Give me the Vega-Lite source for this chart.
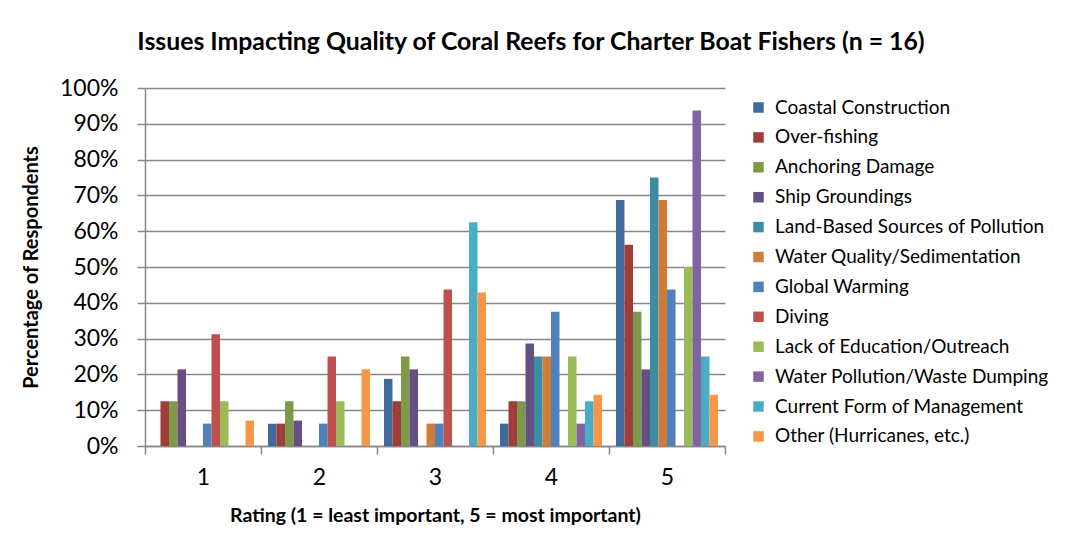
{
  "$schema": "https://vega.github.io/schema/vega-lite/v6.json",
  "autosize": {"type": "none"},
  "padding": {"left": 145, "top": 88, "right": 340, "bottom": 108},
  "width": 580,
  "height": 358,
  "background": "white",
  "title": {
    "text": "Issues Impacting Quality of Coral Reefs for Charter Boat Fishers (n = 16)",
    "font": "Lato",
    "fontSize": 24.8,
    "fontWeight": "bold",
    "color": "#000000",
    "anchor": "middle",
    "frame": "group",
    "dx": 96,
    "offset": 22
  },
  "data": {
    "values": [
      {"rating": "1", "issue": "Coastal Construction", "pct": 0},
      {"rating": "1", "issue": "Over-fishing", "pct": 0.125},
      {"rating": "1", "issue": "Anchoring Damage", "pct": 0.125},
      {"rating": "1", "issue": "Ship Groundings", "pct": 0.214},
      {"rating": "1", "issue": "Land-Based Sources of Pollution", "pct": 0},
      {"rating": "1", "issue": "Water Quality/Sedimentation", "pct": 0},
      {"rating": "1", "issue": "Global Warming", "pct": 0.0625},
      {"rating": "1", "issue": "Diving", "pct": 0.3125},
      {"rating": "1", "issue": "Lack of Education/Outreach", "pct": 0.125},
      {"rating": "1", "issue": "Water Pollution/Waste Dumping", "pct": 0},
      {"rating": "1", "issue": "Current Form of Management", "pct": 0},
      {"rating": "1", "issue": "Other (Hurricanes, etc.)", "pct": 0.071},
      {"rating": "2", "issue": "Coastal Construction", "pct": 0.0625},
      {"rating": "2", "issue": "Over-fishing", "pct": 0.0625},
      {"rating": "2", "issue": "Anchoring Damage", "pct": 0.125},
      {"rating": "2", "issue": "Ship Groundings", "pct": 0.071},
      {"rating": "2", "issue": "Land-Based Sources of Pollution", "pct": 0},
      {"rating": "2", "issue": "Water Quality/Sedimentation", "pct": 0},
      {"rating": "2", "issue": "Global Warming", "pct": 0.0625},
      {"rating": "2", "issue": "Diving", "pct": 0.25},
      {"rating": "2", "issue": "Lack of Education/Outreach", "pct": 0.125},
      {"rating": "2", "issue": "Water Pollution/Waste Dumping", "pct": 0},
      {"rating": "2", "issue": "Current Form of Management", "pct": 0},
      {"rating": "2", "issue": "Other (Hurricanes, etc.)", "pct": 0.214},
      {"rating": "3", "issue": "Coastal Construction", "pct": 0.1875},
      {"rating": "3", "issue": "Over-fishing", "pct": 0.125},
      {"rating": "3", "issue": "Anchoring Damage", "pct": 0.25},
      {"rating": "3", "issue": "Ship Groundings", "pct": 0.214},
      {"rating": "3", "issue": "Land-Based Sources of Pollution", "pct": 0},
      {"rating": "3", "issue": "Water Quality/Sedimentation", "pct": 0.0625},
      {"rating": "3", "issue": "Global Warming", "pct": 0.0625},
      {"rating": "3", "issue": "Diving", "pct": 0.4375},
      {"rating": "3", "issue": "Lack of Education/Outreach", "pct": 0},
      {"rating": "3", "issue": "Water Pollution/Waste Dumping", "pct": 0},
      {"rating": "3", "issue": "Current Form of Management", "pct": 0.625},
      {"rating": "3", "issue": "Other (Hurricanes, etc.)", "pct": 0.429},
      {"rating": "4", "issue": "Coastal Construction", "pct": 0.0625},
      {"rating": "4", "issue": "Over-fishing", "pct": 0.125},
      {"rating": "4", "issue": "Anchoring Damage", "pct": 0.125},
      {"rating": "4", "issue": "Ship Groundings", "pct": 0.286},
      {"rating": "4", "issue": "Land-Based Sources of Pollution", "pct": 0.25},
      {"rating": "4", "issue": "Water Quality/Sedimentation", "pct": 0.25},
      {"rating": "4", "issue": "Global Warming", "pct": 0.375},
      {"rating": "4", "issue": "Diving", "pct": 0},
      {"rating": "4", "issue": "Lack of Education/Outreach", "pct": 0.25},
      {"rating": "4", "issue": "Water Pollution/Waste Dumping", "pct": 0.0625},
      {"rating": "4", "issue": "Current Form of Management", "pct": 0.125},
      {"rating": "4", "issue": "Other (Hurricanes, etc.)", "pct": 0.143},
      {"rating": "5", "issue": "Coastal Construction", "pct": 0.6875},
      {"rating": "5", "issue": "Over-fishing", "pct": 0.5625},
      {"rating": "5", "issue": "Anchoring Damage", "pct": 0.375},
      {"rating": "5", "issue": "Ship Groundings", "pct": 0.214},
      {"rating": "5", "issue": "Land-Based Sources of Pollution", "pct": 0.75},
      {"rating": "5", "issue": "Water Quality/Sedimentation", "pct": 0.6875},
      {"rating": "5", "issue": "Global Warming", "pct": 0.4375},
      {"rating": "5", "issue": "Diving", "pct": 0},
      {"rating": "5", "issue": "Lack of Education/Outreach", "pct": 0.5},
      {"rating": "5", "issue": "Water Pollution/Waste Dumping", "pct": 0.9375},
      {"rating": "5", "issue": "Current Form of Management", "pct": 0.25},
      {"rating": "5", "issue": "Other (Hurricanes, etc.)", "pct": 0.143}
    ]
  },
  "mark": {"type": "bar"},
  "encoding": {
    "x": {
      "field": "rating",
      "type": "nominal",
      "scale": {"paddingInner": 0, "paddingOuter": 0},
      "axis": {
        "title": "Rating (1 = least important, 5 = most important)",
        "labelAngle": 0,
        "tickBand": "extent",
        "tickSize": 8,
        "labelPadding": 12,
        "titlePadding": 17,
        "labelFontSize": 23,
        "titleFontSize": 19.5,
        "titleFontWeight": "bold"
      }
    },
    "xOffset": {
      "field": "issue",
      "type": "nominal",
      "sort": ["Coastal Construction", "Over-fishing", "Anchoring Damage", "Ship Groundings", "Land-Based Sources of Pollution", "Water Quality/Sedimentation", "Global Warming", "Diving", "Lack of Education/Outreach", "Water Pollution/Waste Dumping", "Current Form of Management", "Other (Hurricanes, etc.)"],
      "scale": {"paddingInner": 0, "paddingOuter": 0.82}
    },
    "y": {
      "field": "pct",
      "type": "quantitative",
      "scale": {"domain": [0, 1], "nice": false},
      "axis": {
        "title": "Percentage of Respondents",
        "format": ".0%",
        "values": [0, 0.1, 0.2, 0.3, 0.4, 0.5, 0.6, 0.7, 0.8, 0.9, 1],
        "tickSize": 8,
        "labelPadding": 19,
        "titlePadding": 18,
        "labelFontSize": 23,
        "titleFontSize": 20,
        "titleFontWeight": "bold",
        "grid": true
      }
    },
    "color": {
      "field": "issue",
      "type": "nominal",
      "scale": {
        "domain": ["Coastal Construction", "Over-fishing", "Anchoring Damage", "Ship Groundings", "Land-Based Sources of Pollution", "Water Quality/Sedimentation", "Global Warming", "Diving", "Lack of Education/Outreach", "Water Pollution/Waste Dumping", "Current Form of Management", "Other (Hurricanes, etc.)"],
        "range": ["#40699C", "#9E3D3A", "#7E9A48", "#664F83", "#3A8DA3", "#D07C39", "#4F81BD", "#C0504D", "#9BBB59", "#8064A2", "#4BACC6", "#F79646"]
      },
      "legend": {
        "title": null,
        "orient": "none",
        "legendX": 604,
        "legendY": 10,
        "symbolType": "square",
        "symbolSize": 110,
        "symbolStrokeWidth": 0,
        "labelFontSize": 19,
        "labelOffset": 7,
        "rowPadding": 9.9,
        "padding": 0,
        "labelLimit": 400
      }
    }
  },
  "config": {
    "font": "Lato",
    "view": {"stroke": null},
    "axis": {
      "labelColor": "#000000",
      "titleColor": "#000000",
      "domainColor": "#868686",
      "tickColor": "#868686",
      "gridColor": "#868686",
      "domainWidth": 1.5,
      "tickWidth": 1.5,
      "gridWidth": 1.5,
      "labelFont": "Lato",
      "titleFont": "Lato"
    },
    "axisX": {"grid": false},
    "legend": {"labelColor": "#000000", "labelFont": "Lato"}
  }
}
